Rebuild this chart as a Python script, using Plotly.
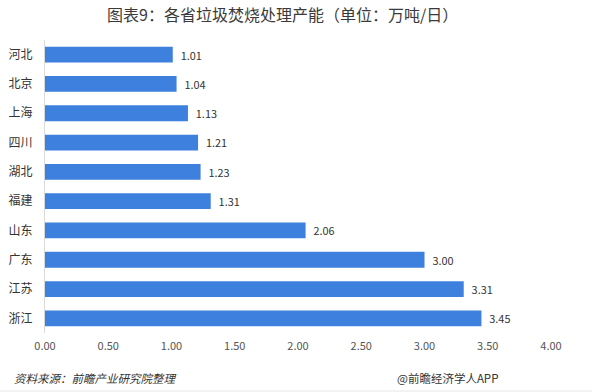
import plotly.graph_objects as go

provinces = ["河北", "北京", "上海", "四川", "湖北", "福建", "山东", "广东", "江苏", "浙江"]
capacity = [1.01, 1.04, 1.13, 1.21, 1.23, 1.31, 2.06, 3.00, 3.31, 3.45]
x_ticks = [0, 0.5, 1.0, 1.5, 2.0, 2.5, 3.0, 3.5, 4.0]
x_tick_labels = ["0.00", "0.50", "1.00", "1.50", "2.00", "2.50", "3.00", "3.50", "4.00"]

FONT = "Noto Sans CJK SC, Microsoft YaHei, sans-serif"
W, H = 592, 392
L, R, T, B = 45, 41, 40, 59
PW, PH = W - L - R, H - T - B


def px(x):
    return (x - L) / PW


def py(y):
    return (H - B - y) / PH


fig = go.Figure(go.Bar(
    x=capacity, y=provinces, orientation="h",
    marker=dict(color="#3E80DD", line=dict(width=0)),
    text=[f"  {v:.2f}" for v in capacity], textposition="outside",
    textfont=dict(size=11, color="#333333", family=FONT),
    cliponaxis=False,
))

fig.update_layout(
    width=W, height=H,
    margin=dict(l=L, r=R, t=T, b=B, autoexpand=False),
    paper_bgcolor="white", plot_bgcolor="white",
    bargap=0.46, showlegend=False,
    font=dict(family=FONT),
    xaxis=dict(range=[0, 4], tickvals=x_ticks, ticktext=x_tick_labels,
               showgrid=False, zeroline=False, showline=False, automargin=False,
               tickfont=dict(size=11, color="#555555"), ticks="", ticklabelstandoff=5),
    yaxis=dict(autorange="reversed", showgrid=False, zeroline=False, automargin=False,
               showline=True, linecolor="#D9D9D9", linewidth=1,
               tickfont=dict(size=12, color="#333333"), ticks="", ticklabelstandoff=9),
    annotations=[
        dict(text="图表9：各省垃圾焚烧处理产能（单位：万吨/日）", x=px(282), y=py(14),
             xref="paper", yref="paper", xanchor="center", yanchor="middle", showarrow=False,
             font=dict(size=16, color="#3A3A3A", family=FONT)),
        dict(text="<i>资料来源：前瞻产业研究院整理</i>", x=px(12), y=py(378),
             xref="paper", yref="paper", xanchor="left", yanchor="middle", showarrow=False,
             font=dict(size=11.5, color="#333333", family=FONT)),
        dict(text="@前瞻经济学人APP", x=px(500), y=py(378),
             xref="paper", yref="paper", xanchor="right", yanchor="middle", showarrow=False,
             font=dict(size=11.5, color="#333333", family=FONT)),
    ],
    shapes=[dict(type="line", xref="paper", yref="paper", x0=px(0), x1=px(W), y0=py(391), y1=py(391),
                 line=dict(color="#E6E6E6", width=1))],
)

fig.write_html("out.html", config={"displayModeBar": False},
               post_script="document.body.style.margin='0';document.body.style.overflow='hidden';")
